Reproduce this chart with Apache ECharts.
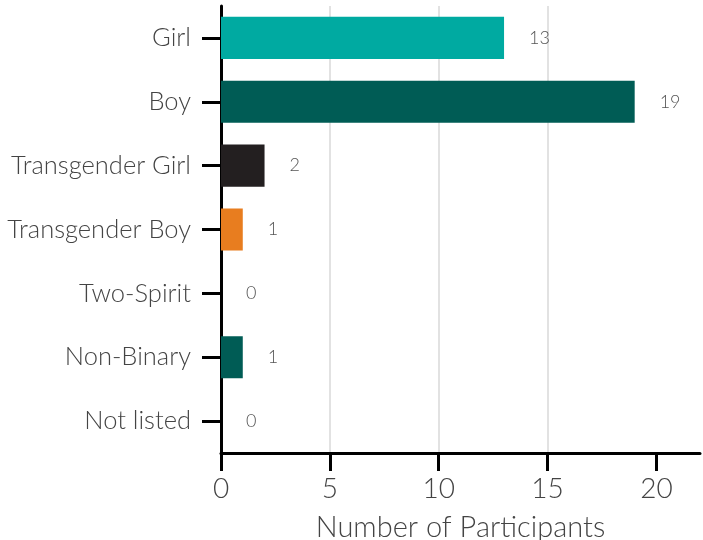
<!DOCTYPE html>
<html>
<head>
<meta charset="utf-8">
<script src="https://cdn.jsdelivr.net/npm/echarts@6/dist/echarts.min.js"></script>
<style>
  html, body { margin: 0; padding: 0; background: #fff; }
  #chart { width: 703px; height: 540px; }
</style>
</head>
<body>
<div id="chart"></div>
<script>
// 类别与数值
var categories = ["Girl", "Boy", "Transgender Girl", "Transgender Boy", "Two-Spirit", "Non-Binary", "Not listed"];
var counts = [13, 19, 2, 1, 0, 1, 0];
var barColors = ["#00aaa1", "#005c55", "#231f20", "#e87d1f", "#005c55", "#005c55", "#005c55"];
var xTicks = [0, 5, 10, 15, 20];

(function () {
    var myChart = echarts.init(document.getElementById("chart"));
    var font = "Lato";
    var option = {
        animation: false,
        grid: {
            left: 221,
            right: 3,
            top: 6,
            bottom: 87,
            outerBoundsMode: 'none'
        },
        xAxis: {
            type: 'value',
            min: 0,
            max: 22,
            interval: 5,
            name: 'Number of Participants',
            nameLocation: 'middle',
            nameGap: 60,
            nameTextStyle: {
                color: '#444',
                fontSize: 29,
                fontFamily: font,
                fontWeight: 300
            },
            axisLine: {
                show: true,
                lineStyle: { color: '#000', width: 3 }
            },
            axisTick: {
                show: true,
                length: 18,
                customValues: xTicks,
                lineStyle: { color: '#000', width: 3 }
            },
            axisLabel: {
                customValues: xTicks,
                color: '#444',
                fontSize: 28,
                fontFamily: font,
                fontWeight: 300,
                margin: 22
            },
            splitLine: {
                show: true,
                showMinLine: false,
                showMaxLine: false,
                lineStyle: { color: '#e2e2e2', width: 2 }
            }
        },
        yAxis: {
            type: 'category',
            inverse: true,
            data: categories,
            axisLine: {
                show: true,
                lineStyle: { color: '#000', width: 3 }
            },
            axisTick: {
                show: true,
                alignWithLabel: true,
                length: 19,
                lineStyle: { color: '#000', width: 3 }
            },
            axisLabel: {
                color: '#444',
                fontSize: 25.5,
                fontFamily: font,
                fontWeight: 300,
                margin: 30
            }
        },
        series: [
            {
                type: 'bar',
                data: counts,
                barCategoryGap: '34%',
                itemStyle: {
                    color: function (p) { return barColors[p.dataIndex]; }
                },
                label: {
                    show: true,
                    position: 'right',
                    distance: 25,
                    color: '#555',
                    fontSize: 18,
                    fontFamily: font,
                    fontWeight: 300
                }
            }
        ]
    };
    myChart.setOption(option);
})();
</script>
</body>
</html>
